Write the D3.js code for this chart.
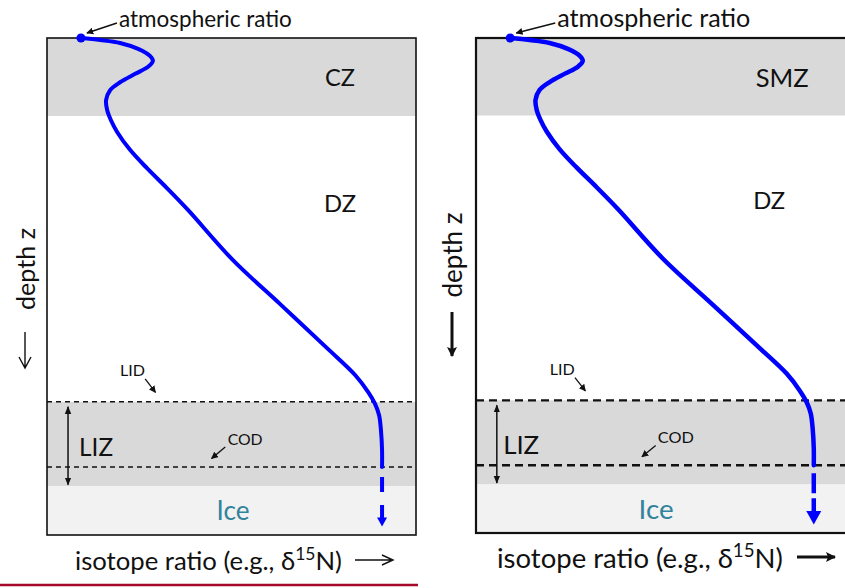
<!DOCTYPE html>
<html>
<head>
<meta charset="utf-8">
<script src="https://cdn.jsdelivr.net/npm/d3@7"></script>
<style>
  html, body { margin: 0; padding: 0; background: #fff; }
  svg { display: block; }
  text { font-family: Lato, "Open Sans", sans-serif; fill: #111; }
</style>
</head>
<body>
<svg id="chart" width="845" height="588"></svg>
<script>
// Schematic firn profile: isotope ratio against depth (both in % of panel extent)
const isotopeRatio = [9.2, 14.4, 19.8, 24.7, 27.9, 28.7, 27.4, 23.9, 19.8, 17.1, 16.0, 16.3,
  17.3, 19.0, 22.5, 27.1, 32.5, 38.2, 50.4, 63.4, 75.9, 83.5, 87.0, 88.9, 90.0, 90.5, 90.8, 90.8];
const depth = [0, 0.4, 1.0, 2.2, 3.6, 4.6, 5.8, 7.2, 8.9, 10.5, 12.5, 14.5,
  16.5, 18.9, 22.5, 26.2, 30.2, 34.6, 44.7, 53.7, 62.4, 67.8, 71.2, 73.6, 75.9, 78.9, 82.9, 86.3];

// Zone boundaries (depth, %)
const zoneTops = [0, 15.7, 73.2, 90.2];
const zoneBottoms = [15.7, 73.2, 90.2, 100];
const zoneFills = ["#d9d9d9", "#ffffff", "#d9d9d9", "#f2f2f2"];
const lockInDepth = 73.2;      // LID
const closeOffDepth = 86.3;    // COD
const iceArrowDepth = 98.3;    // tip of the continuation arrow into the ice

// Panel labels
const topZoneLabels = ["CZ", "SMZ"];
const middleZoneLabel = "DZ";
const axisLabelX = "isotope ratio (e.g., δ";
const axisLabelY = "depth z";

const svg = d3.select("#chart");

// scale a label's font size so that its advance matches the wanted width
function fitWidth(sel, target) {
  const w = sel.node().getComputedTextLength();
  const fs = parseFloat(sel.attr("font-size"));
  if (w > 0) sel.attr("font-size", (fs * target / w).toFixed(2));
  return sel;
}

svg.append("defs").call(defs => {
  defs.append("marker").attr("id", "headSmall").attr("viewBox", "0 0 10 10")
    .attr("refX", 9).attr("refY", 5).attr("markerWidth", 7).attr("markerHeight", 7)
    .attr("markerUnits", "userSpaceOnUse").attr("orient", "auto")
    .append("path").attr("d", "M0,0 L10,5 L0,10 z").attr("fill", "#111");
  defs.append("marker").attr("id", "headBig").attr("viewBox", "0 0 10 10")
    .attr("refX", 9).attr("refY", 5).attr("markerWidth", 10).attr("markerHeight", 10)
    .attr("markerUnits", "userSpaceOnUse").attr("orient", "auto-start-reverse")
    .append("path").attr("d", "M0,0 L10,5 L0,10 L2,5 z").attr("fill", "#111");
  defs.append("marker").attr("id", "headDouble").attr("viewBox", "0 0 10 10")
    .attr("refX", 9).attr("refY", 5).attr("markerWidth", 8).attr("markerHeight", 8)
    .attr("markerUnits", "userSpaceOnUse").attr("orient", "auto-start-reverse")
    .append("path").attr("d", "M0,1 L10,5 L0,9 z").attr("fill", "#111");
});

const panels = [
  { x0: 47, y0: 38, w: 369, h: 497, border: 1.6, dash: [5, 4], dashW: 1.5, line: 4,
    topLabel: topZoneLabels[0], topW: 30, midW: 32, lizW: 34, iceW: 33, lidW: 25, codW: 35,
    atmW: 173, atmDx: 38, axisW: 267, depthW: 82,
    topLabelX: 79.4, midLabelX: 79.4, midLabelY: 33.1, lizX: 8.7, dblX: 5.7, iceX: 50.4,
    head: 10, thin: true,
    depthX: 25, depthTextY: 269, depthArrow: [332, 368],
    axisY: 560, axisX: 75, axisArrow: [355, 393] },
  { x0: 476, y0: 38, w: 372, h: 495, border: 2.2, dash: [8, 5], dashW: 2.4, line: 4.5,
    topLabel: topZoneLabels[1], topW: 53, midW: 32, lizW: 36, iceW: 35, lidW: 25, codW: 36,
    atmW: 193, atmDx: 47, axisW: 286, depthW: 85,
    topLabelX: 82.3, midLabelX: 78.8, midLabelY: 32.7, lizX: 7.3, dblX: 5.6, iceX: 48.4,
    head: 15, thin: false,
    depthX: 452, depthTextY: 255, depthArrow: [312, 356],
    axisY: 557, axisX: 497, axisArrow: [797, 835] }
];

panels.forEach(p => {
  const x = d3.scaleLinear().domain([0, 100]).range([p.x0, p.x0 + p.w]);
  const y = d3.scaleLinear().domain([0, 100]).range([p.y0, p.y0 + p.h]);
  const g = svg.append("g");

  // zone bands
  g.selectAll("rect.zone").data(zoneTops).join("rect")
    .attr("class", "zone")
    .attr("x", x(0)).attr("width", x(100) - x(0))
    .attr("y", d => y(d)).attr("height", (d, i) => y(zoneBottoms[i]) - y(d))
    .attr("fill", (d, i) => zoneFills[i]);

  // LID and COD dashed lines
  g.selectAll("line.depthmark").data([lockInDepth, closeOffDepth]).join("line")
    .attr("x1", x(0)).attr("x2", x(100)).attr("y1", d => y(d)).attr("y2", d => y(d))
    .attr("stroke", "#111").attr("stroke-width", p.dashW)
    .attr("stroke-dasharray", p.dash.join(","));

  // frame
  g.append("rect").attr("x", x(0)).attr("y", y(0))
    .attr("width", x(100) - x(0)).attr("height", y(100) - y(0))
    .attr("fill", "none").attr("stroke", "#111").attr("stroke-width", p.border);

  // isotope profile
  const profile = d3.range(depth.length).map(i => [isotopeRatio[i], depth[i]]);
  const line = d3.line().x(d => x(d[0])).y(d => y(d[1])).curve(d3.curveCatmullRom.alpha(0.5));
  g.append("path").datum(profile).attr("d", line)
    .attr("fill", "none").attr("stroke", "#0000ff").attr("stroke-width", p.line)
    .attr("stroke-linecap", "round");

  // continuation into the ice
  const xEnd = isotopeRatio[isotopeRatio.length - 1];
  const tipY = y(iceArrowDepth);
  g.append("line")
    .attr("x1", x(xEnd)).attr("x2", x(xEnd))
    .attr("y1", y(closeOffDepth) + (p.thin ? 10 : 8)).attr("y2", tipY - p.head * 0.8)
    .attr("stroke", "#0000ff").attr("stroke-width", p.line)
    .attr("stroke-dasharray", p.thin ? "15,13" : "20,5");
  g.append("path")
    .attr("d", `M${x(xEnd) - p.head / 2},${tipY - p.head * 0.9} L${x(xEnd) + p.head / 2},${tipY - p.head * 0.9} L${x(xEnd)},${tipY} Z`)
    .attr("fill", "#0000ff");

  // atmospheric starting point
  g.append("circle").attr("cx", x(isotopeRatio[0])).attr("cy", y(depth[0]))
    .attr("r", 4.5).attr("fill", "#0000ff");

  // annotation: atmospheric ratio
  fitWidth(g.append("text").attr("x", x(isotopeRatio[0]) + p.atmDx).attr("y", 27)
    .attr("font-size", 20).text("atmospheric ratio"), p.atmW);
  g.append("line")
    .attr("x1", x(isotopeRatio[0]) + p.atmDx - 2).attr("y1", 23)
    .attr("x2", x(isotopeRatio[0]) + 6).attr("y2", 33)
    .attr("stroke", "#111").attr("stroke-width", 1.5).attr("marker-end", "url(#headSmall)");

  // zone labels
  fitWidth(g.append("text").attr("x", x(p.topLabelX)).attr("y", y((zoneTops[0] + zoneBottoms[0]) / 2))
    .attr("text-anchor", "middle").attr("dominant-baseline", "central")
    .attr("font-size", 24).text(p.topLabel), p.topW);
  fitWidth(g.append("text").attr("x", x(p.midLabelX)).attr("y", y(p.midLabelY))
    .attr("text-anchor", "middle").attr("dominant-baseline", "central")
    .attr("font-size", 24).text(middleZoneLabel), p.midW);
  fitWidth(g.append("text").attr("x", x(p.lizX)).attr("y", y(82.1))
    .attr("dominant-baseline", "central").attr("font-size", 24).text("LIZ"), p.lizW);
  fitWidth(g.append("text").attr("x", x(p.iceX)).attr("y", y(95))
    .attr("text-anchor", "middle").attr("dominant-baseline", "central")
    .attr("font-size", 24).style("fill", "#31849b").text("Ice"), p.iceW);

  // LIZ extent double arrow
  g.append("line").attr("x1", x(p.dblX)).attr("x2", x(p.dblX))
    .attr("y1", y(74.2)).attr("y2", y(89.9))
    .attr("stroke", "#111").attr("stroke-width", 1.5)
    .attr("marker-start", "url(#headDouble)").attr("marker-end", "url(#headDouble)");

  // LID / COD callouts
  fitWidth(g.append("text").attr("x", x(23.2)).attr("y", y(66.7))
    .attr("text-anchor", "middle").attr("dominant-baseline", "central")
    .attr("font-size", 14).text("LID"), p.lidW);
  g.append("line").attr("x1", x(26.6)).attr("y1", y(68.6)).attr("x2", x(29.4)).attr("y2", y(71.3))
    .attr("stroke", "#111").attr("stroke-width", 1.3).attr("marker-end", "url(#headSmall)");
  fitWidth(g.append("text").attr("x", x(53.7)).attr("y", y(80.5))
    .attr("text-anchor", "middle").attr("dominant-baseline", "central")
    .attr("font-size", 14).text("COD"), p.codW);
  g.append("line").attr("x1", x(48.3)).attr("y1", y(82.3)).attr("x2", x(44.6)).attr("y2", y(84.6))
    .attr("stroke", "#111").attr("stroke-width", 1.3).attr("marker-end", "url(#headSmall)");

  // depth axis label
  fitWidth(g.append("text")
    .attr("transform", `translate(${p.depthX},${p.depthTextY}) rotate(-90)`)
    .attr("text-anchor", "middle").attr("dominant-baseline", "central")
    .attr("font-size", 22).text(axisLabelY), p.depthW);
  const [da0, da1] = p.depthArrow;
  if (p.thin) {
    g.append("path")
      .attr("d", `M${p.depthX},${da0} L${p.depthX},${da1} M${p.depthX - 6},${da1 - 11} L${p.depthX},${da1} L${p.depthX + 6},${da1 - 11}`)
      .attr("fill", "none").attr("stroke", "#111").attr("stroke-width", 1.4);
  } else {
    g.append("line").attr("x1", p.depthX).attr("x2", p.depthX).attr("y1", da0).attr("y2", da1)
      .attr("stroke", "#111").attr("stroke-width", 3).attr("marker-end", "url(#headBig)");
  }

  // isotope axis label
  const t = g.append("text").attr("x", p.axisX).attr("y", p.axisY)
    .attr("dominant-baseline", "central").attr("font-size", 24);
  t.append("tspan").text(axisLabelX);
  t.append("tspan").attr("dy", "-0.38em").attr("font-size", "0.68em").text("15");
  t.append("tspan").attr("dy", "0.26em").text("N)");
  fitWidth(t, p.axisW);
  const [aa0, aa1] = p.axisArrow;
  if (p.thin) {
    g.append("path")
      .attr("d", `M${aa0},${p.axisY} L${aa1},${p.axisY} M${aa1 - 11},${p.axisY - 5} L${aa1},${p.axisY} L${aa1 - 11},${p.axisY + 5}`)
      .attr("fill", "none").attr("stroke", "#111").attr("stroke-width", 1.4);
  } else {
    g.append("line").attr("x1", aa0).attr("x2", aa1).attr("y1", p.axisY).attr("y2", p.axisY)
      .attr("stroke", "#111").attr("stroke-width", 3).attr("marker-end", "url(#headBig)");
  }
});

// rule along the bottom of the left figure
svg.append("line").attr("x1", 0).attr("x2", 418).attr("y1", 585).attr("y2", 585)
  .attr("stroke", "#a50a2b").attr("stroke-width", 2.5);
</script>
</body>
</html>
